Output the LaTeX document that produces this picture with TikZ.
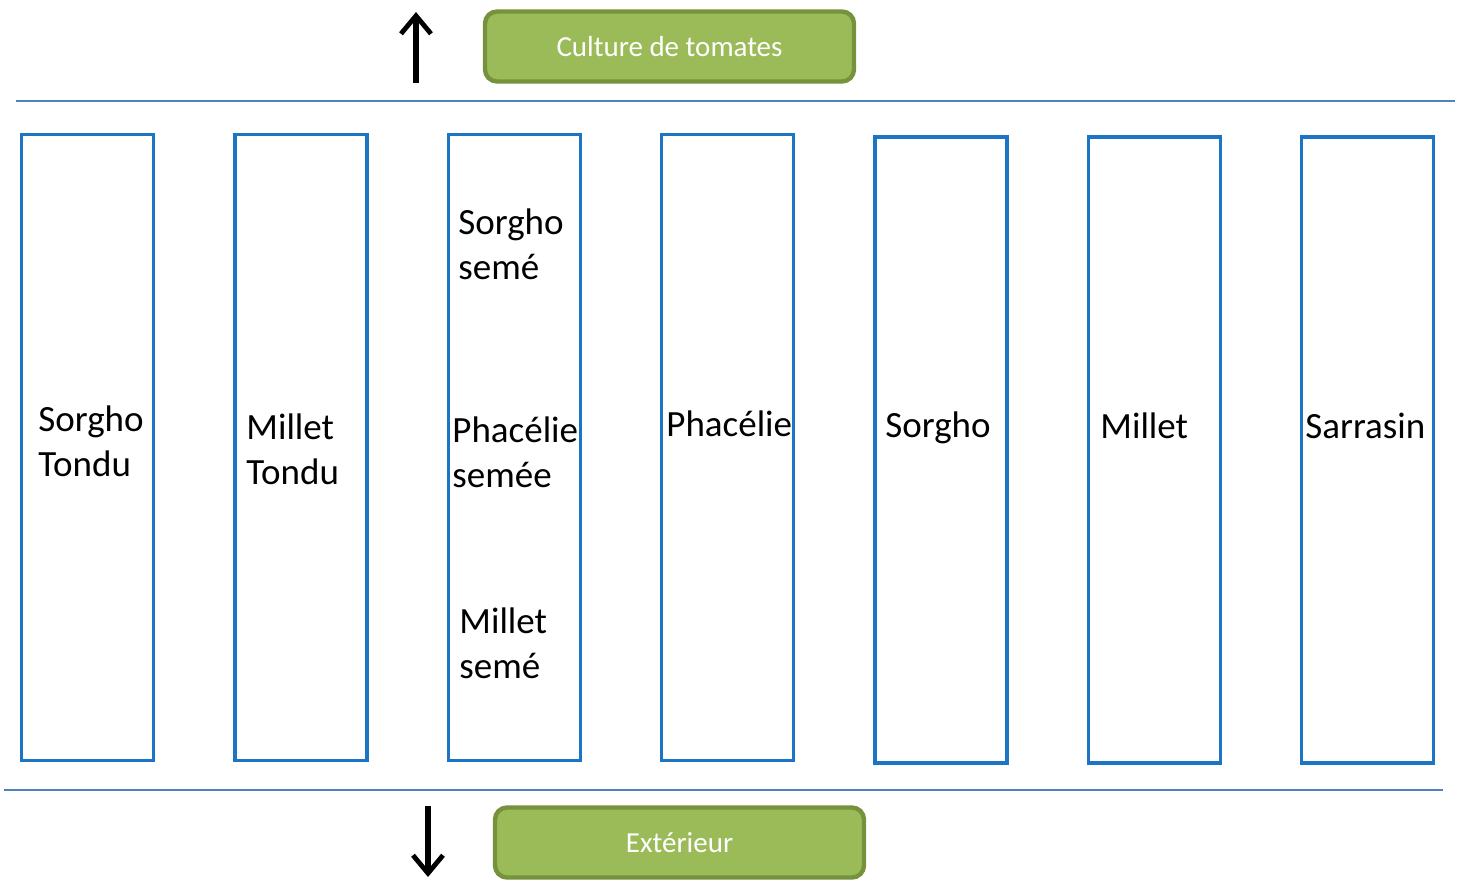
\documentclass[tikz,border=0pt]{standalone}
\usepackage{fontspec}
\setmainfont{Carlito}
\usetikzlibrary{arrows.meta}
\definecolor{bedblue}{HTML}{1C75C4}
\definecolor{rowblue}{HTML}{4F81BD}
\definecolor{tagfill}{HTML}{9BBB59}
\definecolor{tagedge}{HTML}{76923C}
\tikzset{
  bedbox/.style={draw=bedblue, line width=1.8pt, minimum width=66pt, minimum height=313pt, inner sep=0pt},
  croptext/.style={anchor=west, align=left, inner sep=0pt, font=\fontsize{18.5}{22.5}\selectfont},
  tagbox/.style={draw=tagedge, fill=tagfill, line width=2.2pt, rounded corners=6pt, minimum width=184.5pt, minimum height=35pt, text=white, font=\fontsize{14.5}{17}\selectfont},
  rowline/.style={draw=rowblue, line width=1pt},
  flow/.style={line width=2.6pt, -{Straight Barb[length=9pt,width=15pt,line width=2.4pt]}}
}
\begin{document}
\begin{tikzpicture}[x=0.5pt, y=-0.5pt]
  \useasboundingbox (0,0) rectangle (1458,880);

  % labels
  \node[tagbox] (tomates) at (669.5,46.5) {Culture de tomates};
  \node[tagbox] (exterieur) at (679.5,842.5) {Extérieur};

  % arrows
  \coordinate (upfoot) at (416,83);
  \coordinate (uphead) at (416,12);
  \coordinate (downfoot) at (428,806);
  \coordinate (downhead) at (428,877);
  \draw[flow] (upfoot) -- (uphead);
  \draw[flow] (downfoot) -- (downhead);

  % rows
  \coordinate (topW) at (16,101);
  \coordinate (topE) at (1455,101);
  \coordinate (botW) at (4,790);
  \coordinate (botE) at (1443,790);
  \draw[rowline] (topW) -- (topE);
  \draw[rowline] (botW) -- (botE);

  % beds
  \node[bedbox] (bed1) at (87.5,447.5) {};
  \node[bedbox] (bed2) at (301,447.5) {};
  \node[bedbox] (bed3) at (514.5,447.5) {};
  \node[bedbox] (bed4) at (727.5,447.5) {};
  \node[bedbox] (bed5) at (941,450) {};
  \node[bedbox] (bed6) at (1154.5,450) {};
  \node[bedbox] (bed7) at (1367.5,450) {};

  % crops
  \node[croptext] (sorghoT) at (38,441) {Sorgho\\Tondu};
  \node[croptext] (milletT) at (246,449) {Millet\\Tondu};
  \node[croptext] (sorghoS) at (458,244) {Sorgho\\semé};
  \node[croptext] (phacelieS) at (452,452) {Phacélie\\semée};
  \node[croptext] (milletS) at (459,643) {Millet\\semé};
  \node[croptext] (phacelie) at (666,424) {Phacélie};
  \node[croptext] (sorgho) at (885,428) {Sorgho};
  \node[croptext] (millet) at (1100,426) {Millet};
  \node[croptext] (sarrasin) at (1305,426) {Sarrasin};
\end{tikzpicture}
\end{document}
